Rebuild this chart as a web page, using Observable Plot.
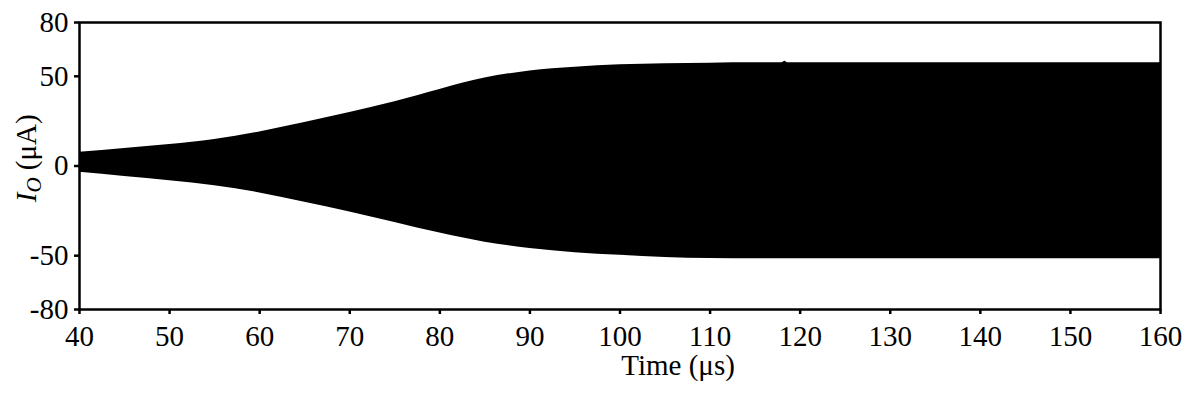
<!DOCTYPE html>
<html><head><meta charset="utf-8">
<script src="https://cdn.jsdelivr.net/npm/d3@7"></script>
<script src="https://cdn.jsdelivr.net/npm/@observablehq/plot@0.6"></script>
<style>body{margin:0;background:#fff} svg{display:block}</style>
</head><body><div id="chart"></div>
<script>
// Envelope of the oscillating output current I_O (µA) vs time (µs)
const time  = [40, 45, 50, 55, 60, 65, 70, 75, 80, 85, 90, 95, 100, 105, 110, 115, 118, 118.3, 118.6, 120, 130, 140, 150, 160];
const upper = [7.7, 9.8, 12.0, 14.8, 19.0, 24.2, 29.8, 35.8, 42.7, 49.0, 53.0, 55.1, 56.4, 57.0, 57.3, 57.5, 57.5, 58.4, 57.5, 57.5, 57.5, 57.5, 57.5, 57.5];
const lower = [-3.5, -5.8, -8.2, -11.0, -15.0, -20.2, -25.6, -31.5, -37.4, -42.5, -46.0, -48.3, -49.8, -51.0, -51.6, -51.7, -51.7, -51.7, -51.7, -51.7, -51.7, -51.7, -51.7, -51.7];
const xTicks = [40, 50, 60, 70, 80, 90, 100, 110, 120, 130, 140, 150, 160];
const yTicks = [-80, -50, 0, 50, 80];
const xTitle = "Time (μs)";
const yTitleMain = "I", yTitleSub = "O", yTitleUnit = " (μA)";

const data = time.map((t, i) => ({t, hi: upper[i], lo: lower[i]}));
const FONT = "'Liberation Serif', 'Times New Roman', serif";
const FS = 29;

const chart = Plot.plot({
  width: 1188, height: 397,
  marginLeft: 79, marginRight: 28, marginTop: 22, marginBottom: 88,
  style: {fontFamily: FONT, fontSize: FS + "px", color: "black", background: "white", overflow: "visible"},
  x: {domain: [40, 160]},
  y: {domain: [-80, 80]},
  marks: [
    Plot.areaY(data, {x: "t", y1: "lo", y2: "hi", fill: "black", curve: "monotone-x"}),
    Plot.frame({stroke: "black", strokeWidth: 2.5}),
    Plot.axisX({ticks: xTicks, tickSize: 5, tickPadding: 11, label: null, strokeWidth: 2.5,
      fontFamily: FONT, fontSize: FS, tickFormat: d => String(d)}),
    Plot.axisY({ticks: yTicks, tickSize: 5, tickPadding: 6, label: null, strokeWidth: 2.5,
      fontFamily: FONT, fontSize: FS, tickFormat: d => String(d)})
  ]
});
document.getElementById("chart").append(chart);

const svg = d3.select(chart);
const xs = chart.scale("x"), ys = chart.scale("y");
// x title
svg.append("text")
  .attr("x", xs.apply(106.5)).attr("y", 375)
  .attr("text-anchor", "middle")
  .attr("font-family", FONT).attr("font-size", FS).attr("fill", "black")
  .text(xTitle);
// y title
const yt = svg.append("text")
  .attr("transform", `translate(36,${ys.apply(4)}) rotate(-90)`)
  .attr("text-anchor", "middle")
  .attr("font-family", FONT).attr("font-size", FS).attr("fill", "black");
yt.append("tspan").attr("font-style", "italic").text(yTitleMain);
yt.append("tspan").attr("font-style", "italic").attr("font-size", 21).attr("dy", 5).text(yTitleSub);
yt.append("tspan").attr("dy", -5).text(yTitleUnit);
</script>
</body></html>
